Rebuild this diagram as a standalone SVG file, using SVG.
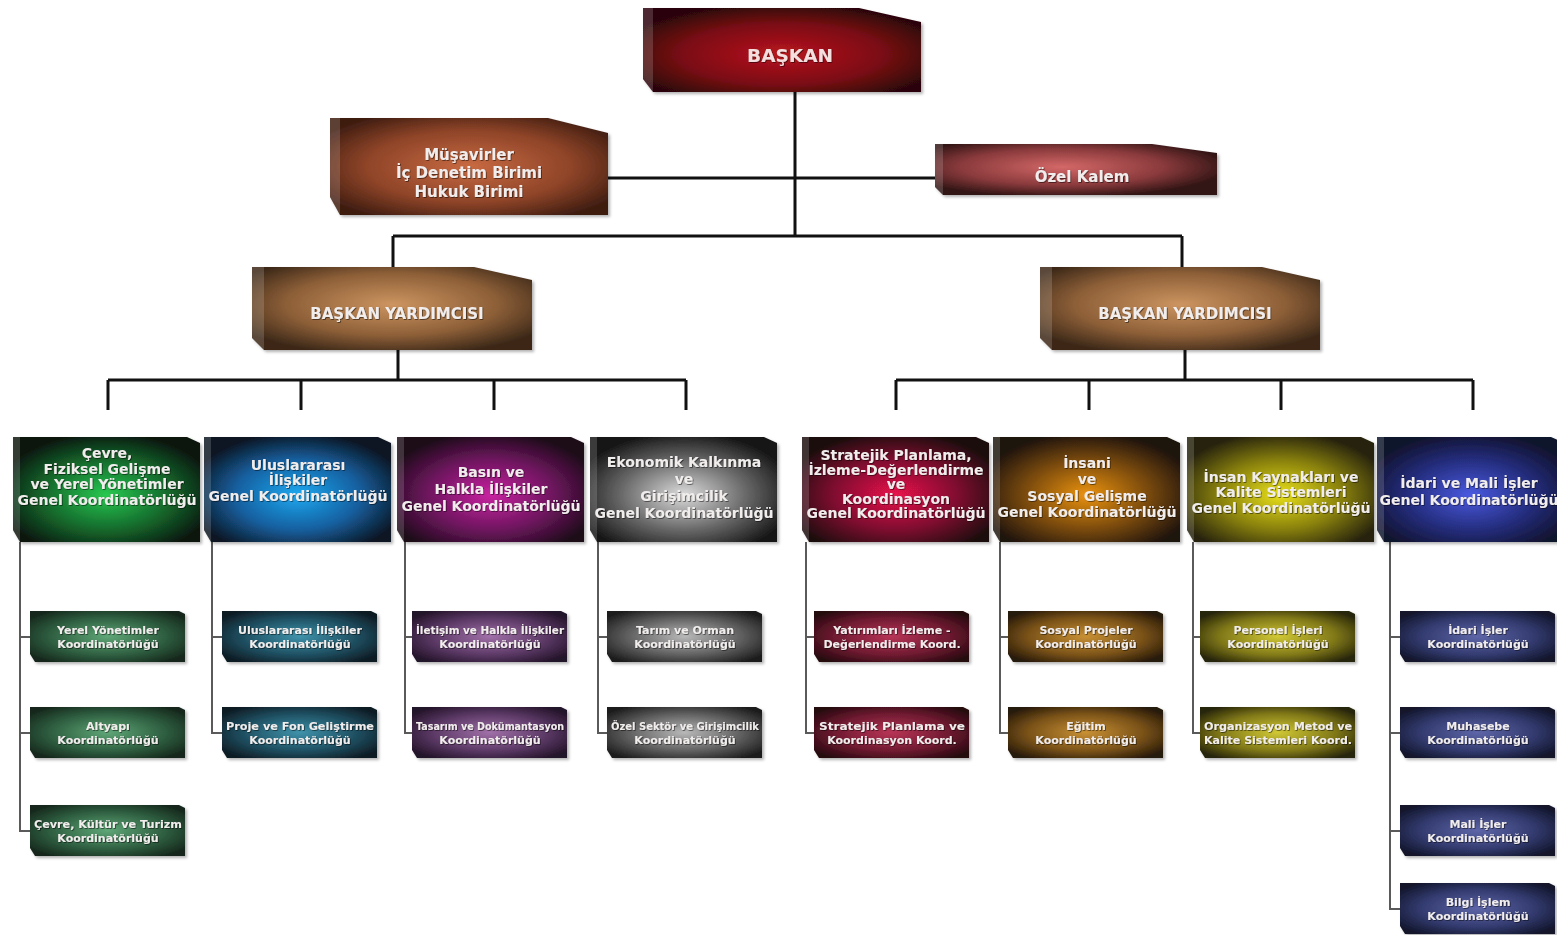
<svg xmlns="http://www.w3.org/2000/svg" width="1557" height="935" viewBox="0 0 1557 935">
<style>
.c{stroke:#111;stroke-width:3;fill:none}
.cs{stroke:#5a5a5a;stroke-width:2;fill:none}
.box{filter:url(#sh)}
.bev{fill:#fff;opacity:.16}
text{font-family:"DejaVu Sans","Liberation Sans",sans-serif;font-weight:bold;fill:#f1eded;text-anchor:middle;filter:url(#ts)}
.t0{font-size:18.5px;fill:#f4dede}
.t1{font-size:15px}
.t2{font-size:14px}
.t3{font-size:11px}
</style>
<defs>
<filter id="sh" x="-10%" y="-10%" width="125%" height="130%"><feDropShadow dx="2" dy="2" stdDeviation="1.5" flood-color="#000" flood-opacity="0.3"/></filter>
<filter id="ts" x="-5%" y="-20%" width="110%" height="150%"><feDropShadow dx="0.8" dy="0.8" stdDeviation="0.4" flood-color="#000" flood-opacity="0.6"/></filter>
<radialGradient id="gRed" cx="0.5" cy="0.55" r="0.6"><stop offset="0" stop-color="#b8141f"/><stop offset="0.6" stop-color="#7a0c13"/><stop offset="1" stop-color="#2c0608"/></radialGradient>
<radialGradient id="gCop" cx="0.5" cy="0.5" r="0.62"><stop offset="0" stop-color="#c86a42"/><stop offset="0.6" stop-color="#8e4428"/><stop offset="1" stop-color="#3e1c10"/></radialGradient>
<radialGradient id="gPink" cx="0.45" cy="0.45" r="0.6"><stop offset="0" stop-color="#d46868"/><stop offset="0.6" stop-color="#8a3a3c"/><stop offset="1" stop-color="#301414"/></radialGradient>
<radialGradient id="gBro" cx="0.5" cy="0.45" r="0.62"><stop offset="0" stop-color="#cc9460"/><stop offset="0.6" stop-color="#8e6038"/><stop offset="1" stop-color="#3c2818"/></radialGradient>
<radialGradient id="g1" cx="0.5" cy="0.55" r="0.6"><stop offset="0" stop-color="#28c850"/><stop offset="0.55" stop-color="#146a2c"/><stop offset="1" stop-color="#0c140e"/></radialGradient>
<radialGradient id="g2" cx="0.5" cy="0.55" r="0.6"><stop offset="0" stop-color="#1ea8f0"/><stop offset="0.55" stop-color="#1460a0"/><stop offset="1" stop-color="#0e1420"/></radialGradient>
<radialGradient id="g3" cx="0.5" cy="0.55" r="0.6"><stop offset="0" stop-color="#c822a0"/><stop offset="0.55" stop-color="#701660"/><stop offset="1" stop-color="#1c0a18"/></radialGradient>
<radialGradient id="g4" cx="0.5" cy="0.55" r="0.6"><stop offset="0" stop-color="#dcdcdc"/><stop offset="0.55" stop-color="#6a6a6a"/><stop offset="1" stop-color="#161616"/></radialGradient>
<radialGradient id="g5" cx="0.5" cy="0.55" r="0.6"><stop offset="0" stop-color="#e8124a"/><stop offset="0.55" stop-color="#801030"/><stop offset="1" stop-color="#1e080e"/></radialGradient>
<radialGradient id="g6" cx="0.5" cy="0.55" r="0.6"><stop offset="0" stop-color="#ea9212"/><stop offset="0.55" stop-color="#7a4a0e"/><stop offset="1" stop-color="#1c1208"/></radialGradient>
<radialGradient id="g7" cx="0.5" cy="0.55" r="0.6"><stop offset="0" stop-color="#e8e014"/><stop offset="0.55" stop-color="#888010"/><stop offset="1" stop-color="#262208"/></radialGradient>
<radialGradient id="g8" cx="0.5" cy="0.55" r="0.6"><stop offset="0" stop-color="#4a5ae0"/><stop offset="0.55" stop-color="#252e80"/><stop offset="1" stop-color="#10122c"/></radialGradient>
<radialGradient id="s1" cx="0.5" cy="0.5" r="0.62"><stop offset="0" stop-color="#5ea676"/><stop offset="0.6" stop-color="#2e5e40"/><stop offset="1" stop-color="#16281c"/></radialGradient>
<radialGradient id="s2" cx="0.5" cy="0.5" r="0.62"><stop offset="0" stop-color="#3e92aa"/><stop offset="0.6" stop-color="#1e4e60"/><stop offset="1" stop-color="#0e1c24"/></radialGradient>
<radialGradient id="s3" cx="0.5" cy="0.5" r="0.62"><stop offset="0" stop-color="#a070a8"/><stop offset="0.6" stop-color="#5a3864"/><stop offset="1" stop-color="#24142a"/></radialGradient>
<radialGradient id="s4" cx="0.5" cy="0.5" r="0.62"><stop offset="0" stop-color="#b8b8b8"/><stop offset="0.6" stop-color="#5e5e5e"/><stop offset="1" stop-color="#1e1e1e"/></radialGradient>
<radialGradient id="s5" cx="0.5" cy="0.5" r="0.62"><stop offset="0" stop-color="#b83456"/><stop offset="0.6" stop-color="#6e1a30"/><stop offset="1" stop-color="#280810"/></radialGradient>
<radialGradient id="s6" cx="0.5" cy="0.5" r="0.62"><stop offset="0" stop-color="#c89034"/><stop offset="0.6" stop-color="#7a5218"/><stop offset="1" stop-color="#281a08"/></radialGradient>
<radialGradient id="s7" cx="0.5" cy="0.5" r="0.62"><stop offset="0" stop-color="#d0c834"/><stop offset="0.6" stop-color="#807818"/><stop offset="1" stop-color="#282608"/></radialGradient>
<radialGradient id="s8" cx="0.5" cy="0.5" r="0.62"><stop offset="0" stop-color="#5e66a8"/><stop offset="0.6" stop-color="#323a6e"/><stop offset="1" stop-color="#12162c"/></radialGradient>
</defs>
<rect width="1557" height="935" fill="#fff"/>

<g id="connectors">
<path class="c" d="M795,92V236M608,178H935M393,236H1182M393,236V267M1182,236V267"/>
<path class="c" d="M398,350V380M108,380H686M108,380V410M301,380V410M494,380V410M686,380V410"/>
<path class="c" d="M1185,350V380M896,380H1473M896,380V410M1089,380V410M1281,380V410M1473,380V410"/>
<path class="cs" d="M20,542V831H30M20,637H30M20,733H30"/>
<path class="cs" d="M212,542V733H222M212,637H222"/>
<path class="cs" d="M405,542V733H412M405,637H412"/>
<path class="cs" d="M598,542V733H607M598,637H607"/>
<path class="cs" d="M806,542V733H814M806,637H814"/>
<path class="cs" d="M1000,542V733H1008M1000,637H1008"/>
<path class="cs" d="M1193,542V733H1200M1193,637H1200"/>
<path class="cs" d="M1390,542V909H1400M1390,637H1400M1390,733H1400M1390,831H1400"/>
</g>

<g id="baskan">
<path class="box" fill="url(#gRed)" d="M643,8H859L921,22V92H653L643,79Z"/>
<path class="bev" d="M643,8H653V92L643,79Z"/>
<text class="t0" x="790" y="62">BAŞKAN</text>
</g>

<g id="musavirler">
<path class="box" fill="url(#gCop)" d="M330,118H548L608,133V215H340L330,197Z"/>
<path class="bev" d="M330,118H340V215L330,197Z"/>
<text class="t1" x="469" y="160">Müşavirler</text>
<text class="t1" x="469" y="178">İç Denetim Birimi</text>
<text class="t1" x="469" y="197">Hukuk Birimi</text>
</g>

<g id="ozel-kalem">
<path class="box" fill="url(#gPink)" d="M935,144H1152L1217,153V195H943L935,187Z"/>
<path class="bev" d="M935,144H943V195L935,187Z"/>
<text class="t1" x="1082" y="182">Özel Kalem</text>
</g>

<g id="by-left">
<path class="box" fill="url(#gBro)" d="M252,267H474L532,280V350H264L252,338Z"/>
<path class="bev" d="M252,267H264V350L252,338Z"/>
<text class="t1" x="397" y="319">BAŞKAN YARDIMCISI</text>
</g>

<g id="by-right">
<path class="box" fill="url(#gBro)" d="M1040,267H1262L1320,280V350H1052L1040,338Z"/>
<path class="bev" d="M1040,267H1052V350L1040,338Z"/>
<text class="t1" x="1185" y="319">BAŞKAN YARDIMCISI</text>
</g>

<g id="gk1">
<path class="box" fill="url(#g1)" d="M13,437H187L200,443V542H20L13,530Z"/>
<path class="bev" d="M13,437H20V542L13,530Z"/>
<text class="t2" x="107" y="458">Çevre,</text>
<text class="t2" x="107" y="474">Fiziksel Gelişme</text>
<text class="t2" x="107" y="489">ve Yerel Yönetimler</text>
<text class="t2" x="107" y="505">Genel Koordinatörlüğü</text>
</g>
<g id="gk2">
<path class="box" fill="url(#g2)" d="M204,437H378L391,443V542H211L204,530Z"/>
<path class="bev" d="M204,437H211V542L204,530Z"/>
<text class="t2" x="298" y="470">Uluslararası</text>
<text class="t2" x="298" y="485">İlişkiler</text>
<text class="t2" x="298" y="501">Genel Koordinatörlüğü</text>
</g>
<g id="gk3">
<path class="box" fill="url(#g3)" d="M397,437H571L584,443V542H404L397,530Z"/>
<path class="bev" d="M397,437H404V542L397,530Z"/>
<text class="t2" x="491" y="477">Basın ve</text>
<text class="t2" x="491" y="494">Halkla İlişkiler</text>
<text class="t2" x="491" y="511">Genel Koordinatörlüğü</text>
</g>
<g id="gk4">
<path class="box" fill="url(#g4)" d="M590,437H764L777,443V542H597L590,530Z"/>
<path class="bev" d="M590,437H597V542L590,530Z"/>
<text class="t2" x="684" y="467">Ekonomik Kalkınma</text>
<text class="t2" x="684" y="484">ve</text>
<text class="t2" x="684" y="501">Girişimcilik</text>
<text class="t2" x="684" y="518">Genel Koordinatörlüğü</text>
</g>
<g id="gk5">
<path class="box" fill="url(#g5)" d="M802,437H976L989,443V542H809L802,530Z"/>
<path class="bev" d="M802,437H809V542L802,530Z"/>
<text class="t2" x="896" y="460">Stratejik Planlama,</text>
<text class="t2" x="896" y="475">İzleme-Değerlendirme</text>
<text class="t2" x="896" y="489">ve</text>
<text class="t2" x="896" y="504">Koordinasyon</text>
<text class="t2" x="896" y="518">Genel Koordinatörlüğü</text>
</g>
<g id="gk6">
<path class="box" fill="url(#g6)" d="M993,437H1167L1180,443V542H1000L993,530Z"/>
<path class="bev" d="M993,437H1000V542L993,530Z"/>
<text class="t2" x="1087" y="468">İnsani</text>
<text class="t2" x="1087" y="484">ve</text>
<text class="t2" x="1087" y="501">Sosyal Gelişme</text>
<text class="t2" x="1087" y="517">Genel Koordinatörlüğü</text>
</g>
<g id="gk7">
<path class="box" fill="url(#g7)" d="M1187,437H1361L1374,443V542H1194L1187,530Z"/>
<path class="bev" d="M1187,437H1194V542L1187,530Z"/>
<text class="t2" x="1281" y="482">İnsan Kaynakları ve</text>
<text class="t2" x="1281" y="497">Kalite Sistemleri</text>
<text class="t2" x="1281" y="513">Genel Koordinatörlüğü</text>
</g>
<g id="gk8">
<path class="box" fill="url(#g8)" d="M1377,437H1551L1564,443V542H1384L1377,530Z"/>
<path class="bev" d="M1377,437H1384V542L1377,530Z"/>
<text class="t2" x="1469" y="488">İdari ve Mali İşler</text>
<text class="t2" x="1469" y="505">Genel Koordinatörlüğü</text>
</g>

<g id="k1a"><path class="box" fill="url(#s1)" d="M30,611H179L185,614V662H35L30,654Z"/><text class="t3" x="108" y="634">Yerel Yönetimler</text><text class="t3" x="108" y="648">Koordinatörlüğü</text></g>
<g id="k1b"><path class="box" fill="url(#s1)" d="M30,707H179L185,710V758H35L30,750Z"/><text class="t3" x="108" y="730">Altyapı</text><text class="t3" x="108" y="744">Koordinatörlüğü</text></g>
<g id="k1c"><path class="box" fill="url(#s1)" d="M30,805H179L185,808V856H35L30,848Z"/><text class="t3" x="108" y="828" textLength="148" lengthAdjust="spacingAndGlyphs">Çevre, Kültür ve Turizm</text><text class="t3" x="108" y="842">Koordinatörlüğü</text></g>

<g id="k2a"><path class="box" fill="url(#s2)" d="M222,611H371L377,614V662H227L222,654Z"/><text class="t3" x="300" y="634">Uluslararası İlişkiler</text><text class="t3" x="300" y="648">Koordinatörlüğü</text></g>
<g id="k2b"><path class="box" fill="url(#s2)" d="M222,707H371L377,710V758H227L222,750Z"/><text class="t3" x="300" y="730" textLength="148" lengthAdjust="spacingAndGlyphs">Proje ve Fon Geliştirme</text><text class="t3" x="300" y="744">Koordinatörlüğü</text></g>

<g id="k3a"><path class="box" fill="url(#s3)" d="M412,611H561L567,614V662H417L412,654Z"/><text class="t3" x="490" y="634" textLength="148" lengthAdjust="spacingAndGlyphs">İletişim ve Halkla İlişkiler</text><text class="t3" x="490" y="648">Koordinatörlüğü</text></g>
<g id="k3b"><path class="box" fill="url(#s3)" d="M412,707H561L567,710V758H417L412,750Z"/><text class="t3" x="490" y="730" textLength="148" lengthAdjust="spacingAndGlyphs">Tasarım ve Dokümantasyon</text><text class="t3" x="490" y="744">Koordinatörlüğü</text></g>

<g id="k4a"><path class="box" fill="url(#s4)" d="M607,611H756L762,614V662H612L607,654Z"/><text class="t3" x="685" y="634">Tarım ve Orman</text><text class="t3" x="685" y="648">Koordinatörlüğü</text></g>
<g id="k4b"><path class="box" fill="url(#s4)" d="M607,707H756L762,710V758H612L607,750Z"/><text class="t3" x="685" y="730" textLength="148" lengthAdjust="spacingAndGlyphs">Özel Sektör ve Girişimcilik</text><text class="t3" x="685" y="744">Koordinatörlüğü</text></g>

<g id="k5a"><path class="box" fill="url(#s5)" d="M814,611H963L969,614V662H819L814,654Z"/><text class="t3" x="892" y="634">Yatırımları İzleme -</text><text class="t3" x="892" y="648">Değerlendirme Koord.</text></g>
<g id="k5b"><path class="box" fill="url(#s5)" d="M814,707H963L969,710V758H819L814,750Z"/><text class="t3" x="892" y="730" textLength="146" lengthAdjust="spacingAndGlyphs">Stratejik Planlama ve</text><text class="t3" x="892" y="744">Koordinasyon Koord.</text></g>

<g id="k6a"><path class="box" fill="url(#s6)" d="M1008,611H1157L1163,614V662H1013L1008,654Z"/><text class="t3" x="1086" y="634">Sosyal Projeler</text><text class="t3" x="1086" y="648">Koordinatörlüğü</text></g>
<g id="k6b"><path class="box" fill="url(#s6)" d="M1008,707H1157L1163,710V758H1013L1008,750Z"/><text class="t3" x="1086" y="730">Eğitim</text><text class="t3" x="1086" y="744">Koordinatörlüğü</text></g>

<g id="k7a"><path class="box" fill="url(#s7)" d="M1200,611H1349L1355,614V662H1205L1200,654Z"/><text class="t3" x="1278" y="634">Personel İşleri</text><text class="t3" x="1278" y="648">Koordinatörlüğü</text></g>
<g id="k7b"><path class="box" fill="url(#s7)" d="M1200,707H1349L1355,710V758H1205L1200,750Z"/><text class="t3" x="1278" y="730" textLength="148" lengthAdjust="spacingAndGlyphs">Organizasyon Metod ve</text><text class="t3" x="1278" y="744" textLength="148" lengthAdjust="spacingAndGlyphs">Kalite Sistemleri Koord.</text></g>

<g id="k8a"><path class="box" fill="url(#s8)" d="M1400,611H1549L1555,614V662H1405L1400,654Z"/><text class="t3" x="1478" y="634">İdari İşler</text><text class="t3" x="1478" y="648">Koordinatörlüğü</text></g>
<g id="k8b"><path class="box" fill="url(#s8)" d="M1400,707H1549L1555,710V758H1405L1400,750Z"/><text class="t3" x="1478" y="730">Muhasebe</text><text class="t3" x="1478" y="744">Koordinatörlüğü</text></g>
<g id="k8c"><path class="box" fill="url(#s8)" d="M1400,805H1549L1555,808V856H1405L1400,848Z"/><text class="t3" x="1478" y="828">Mali İşler</text><text class="t3" x="1478" y="842">Koordinatörlüğü</text></g>
<g id="k8d"><path class="box" fill="url(#s8)" d="M1400,883H1549L1555,886V934H1405L1400,926Z"/><text class="t3" x="1478" y="906">Bilgi İşlem</text><text class="t3" x="1478" y="920">Koordinatörlüğü</text></g>
</svg>
